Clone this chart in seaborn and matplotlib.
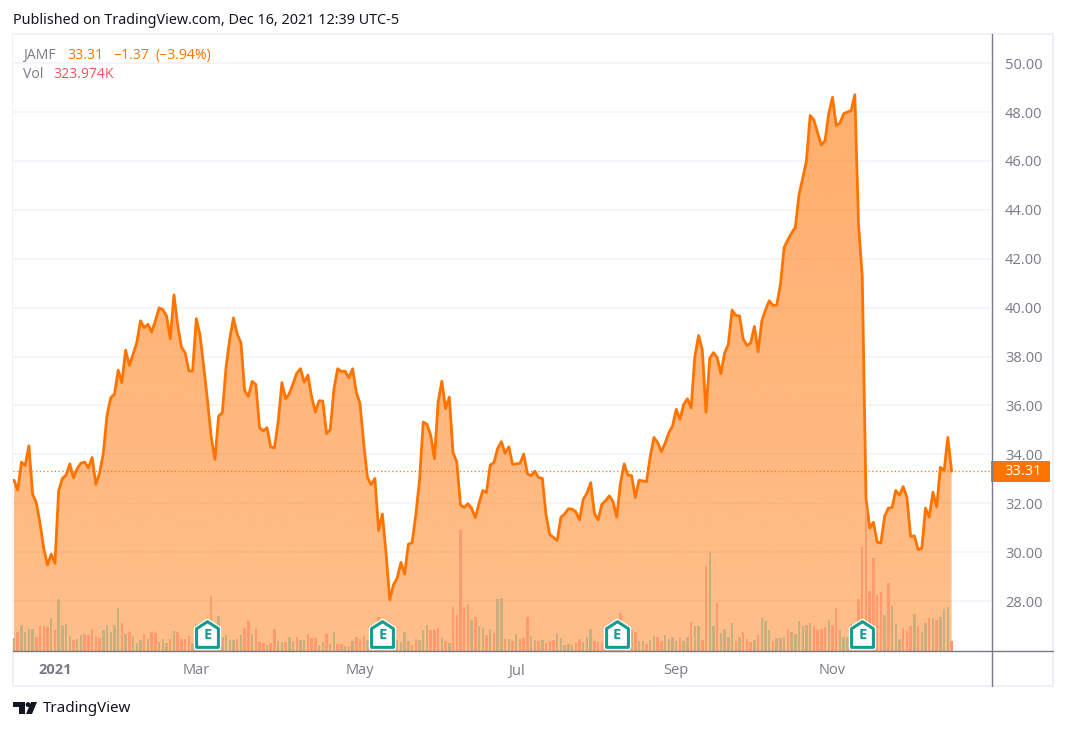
import numpy as np
import pandas as pd
import matplotlib
matplotlib.use('Agg')
import matplotlib.pyplot as plt
import seaborn as sns
from matplotlib.path import Path
from matplotlib.patches import Rectangle, Polygon, Circle
from matplotlib.lines import Line2D
from matplotlib.transforms import blended_transform_factory

# closing price per trading day
price = [
    32.94, 32.53, 33.68, 33.54, 34.35, 32.37, 32.02, 31.17, 30.15, 29.47,
    29.92, 29.54, 32.50, 33.01, 33.15, 33.61, 33.04, 33.42, 33.64, 33.68,
    33.45, 33.87, 32.77, 33.24, 34.03, 35.60, 36.31, 36.46, 37.44, 36.93,
    38.26, 37.64, 38.09, 38.56, 39.46, 39.18, 39.32, 39.00, 39.46, 39.99,
    39.92, 39.66, 38.73, 40.52, 39.28, 38.39, 38.15, 37.41, 37.41, 39.55,
    38.87, 37.57, 36.21, 34.71, 33.79, 35.56, 35.71, 37.57, 38.73, 39.58,
    38.91, 38.56, 36.60, 36.37, 36.98, 36.86, 35.09, 34.96, 35.09, 34.30,
    34.26, 35.32, 36.93, 36.27, 36.48, 36.89, 37.32, 37.50, 36.95, 37.24,
    36.34, 35.73, 36.19, 36.18, 34.85, 35.01, 36.68, 37.50, 37.39, 37.40,
    37.12, 37.50, 36.55, 36.07, 34.44, 33.05, 32.76, 33.01, 30.88, 31.56,
    29.96, 28.05, 28.67, 28.94, 29.58, 29.11, 30.32, 30.39, 31.52, 32.95,
    35.32, 35.23, 34.78, 33.82, 36.14, 36.99, 35.87, 36.34, 34.07, 33.69,
    31.93, 31.83, 31.98, 31.79, 31.41, 32.00, 32.52, 32.44, 33.56, 33.66,
    34.24, 34.52, 34.04, 34.31, 33.59, 33.61, 33.63, 34.01, 33.20, 33.13,
    33.31, 33.05, 33.02, 31.52, 30.72, 30.60, 30.48, 31.43, 31.56, 31.77,
    31.76, 31.65, 31.32, 32.16, 32.41, 32.84, 31.59, 31.32, 31.96, 32.10,
    32.30, 32.07, 31.43, 32.82, 33.61, 33.14, 33.13, 32.23, 32.94, 32.91,
    32.88, 33.90, 34.69, 34.48, 34.11, 34.45, 34.88, 35.16, 35.84, 35.43,
    36.04, 36.27, 35.90, 38.00, 38.86, 38.27, 35.72, 37.93, 38.16, 37.96,
    37.30, 38.14, 38.50, 39.90, 39.68, 39.66, 38.71, 38.45, 38.55, 39.23,
    38.20, 39.46, 39.91, 40.28, 40.09, 40.10, 40.93, 42.46, 42.77, 43.05,
    43.28, 44.62, 45.30, 46.01, 47.86, 47.67, 47.14, 46.65, 46.83, 47.96,
    48.60, 47.45, 47.55, 47.93, 48.00, 48.05, 48.71, 43.39, 41.27, 32.20,
    30.98, 31.22, 30.41, 30.37, 31.46, 31.80, 31.82, 32.52, 32.33, 32.68,
    32.24, 30.64, 30.67, 30.10, 30.16, 31.80, 31.43, 32.45, 31.84, 33.47,
    33.33, 34.69, 33.31,
]

# volume in thousands of shares
volume = [
    410, 616, 842, 616, 713, 713, 464, 810, 810, 788,
    1069, 680, 1685, 842, 875, 486, 356, 389, 518, 551,
    518, 713, 486, 421, 680, 842, 616, 842, 1393, 907,
    551, 616, 486, 259, 356, 551, 389, 616, 583, 292,
    389, 259, 389, 648, 616, 389, 389, 486, 259, 875,
    460, 400, 450, 1782, 500, 1134, 464, 518, 356, 356,
    389, 518, 745, 972, 551, 713, 292, 259, 194, 259,
    713, 324, 292, 292, 454, 324, 454, 356, 356, 551,
    421, 421, 194, 292, 551, 227, 616, 216, 216, 162,
    162, 324, 454, 389, 486, 356, 300, 300, 1091, 350,
    300, 300, 250, 356, 292, 616, 324, 194, 389, 356,
    680, 842, 680, 680, 734, 454, 324, 259, 1426, 1166,
    3920, 1426, 1523, 1004, 1102, 810, 745, 518, 713, 583,
    1685, 1717, 389, 389, 324, 551, 389, 421, 1102, 486,
    356, 324, 356, 248, 324, 356, 583, 421, 194, 227,
    194, 259, 389, 292, 454, 713, 324, 292, 250, 250,
    250, 250, 250, 1231, 250, 250, 680, 616, 324, 324,
    227, 356, 486, 454, 324, 518, 389, 454, 324, 454,
    324, 454, 940, 810, 810, 356, 2754, 3208, 810, 1555,
    583, 713, 454, 907, 324, 454, 616, 389, 292, 356,
    518, 1069, 972, 680, 324, 421, 421, 454, 713, 616,
    551, 972, 810, 842, 907, 810, 680, 713, 778, 1004,
    842, 1393, 680, 454, 454, 875, 500, 1685, 3380, 4570,
    1944, 3013, 1814, 1912, 1166, 2203, 1458, 875, 389, 745,
    648, 810, 1199, 810, 616, 907, 1069, 1069, 1004, 1102,
    1361, 1426, 324,
]

# g = up day, r = down day
vol_dir = list(
    "grggggrrrr" "grggggrggr" "rrrrgggggr" "grgggrgrrg" "ggrgrrrrgg"
    "rrrrrggggg" "rgrrgrrrgr" "rggrggrggr" "rrggrggrrg" "rgrrrgrrrr"
    "rrgggggrrg" "ggrrrgrgrr" "rrrgrggrgr" "ggrgrgrrrg" "grgrrrgggg"
    "grrgggrrrr" "rrrrrrgrgg" "rggrrggggr" "ggrggrrggr" "ggggrgrrrg"
    "rgggrgggrg" "gggggrrrrg" "rrgggrrrrr" "rrrrgrgggr" "rrgrggrgrg"
    "ggr"
)

y_ticks = [28, 30, 32, 34, 36, 38, 40, 42, 44, 46, 48, 50]
month_pos = [11, 49, 93, 135, 178, 220]
month_labels = ['2021', 'Mar', 'May', 'Jul', 'Sep', 'Nov']
earnings_pos = [52, 99, 162, 228]

ORANGE = '#ff7300'
GREY = '#787b86'
W, H = 1066, 730

sns.set_theme(style='white')
plt.rcParams['font.family'] = ['Open Sans', 'DejaVu Sans']

fig = plt.figure(figsize=(W / 100, H / 100), dpi=100)
ax = fig.add_axes([13 / W, (H - 651) / H, 978 / W, 616 / H])

idx = np.arange(len(price))
df = pd.DataFrame({'i': idx, 'price': price, 'vol': volume, 'dir': vol_dir})
xlim = (-0.27, 262.6)
ylim = (25.955, 51.15)

# gridlines stay visible through the fill
ax.grid(axis='y', color='#f0f3fa', lw=1.1)
ax.set_axisbelow(True)

# area fill, a little stronger at the top
grad = np.zeros((256, 1, 4))
grad[..., 0] = 1.0
grad[..., 1] = 115 / 255
grad[..., 3] = np.linspace(0.58, 0.46, 256).reshape(-1, 1)
im = ax.imshow(grad, extent=(df.i.min(), df.i.max(), ylim[0], max(price)), origin='upper',
               aspect='auto', zorder=1.5)
poly = np.column_stack([np.r_[df.i.min(), df.i, df.i.max()], np.r_[ylim[0], df.price, ylim[0]]])
clip = Polygon(poly, closed=True, transform=ax.transData, fc='none', ec='none')
ax.add_patch(clip)
im.set_clip_path(clip)

sns.lineplot(data=df, x='i', y='price', color=ORANGE, lw=2.0, ax=ax, zorder=3)
ax.lines[-1].set_solid_joinstyle('round')
ax.axhline(price[-1], color=ORANGE, lw=0.9, ls=(0, (1, 2)), zorder=2.5)

ax.set_xlabel('')
ax.set_ylabel('')
sns.despine(ax=ax, left=True, bottom=True, right=True, top=True)

# volume pane shares the bottom of the axes
ax2 = ax.twinx()
sns.barplot(data=df, x='i', y='vol', hue='dir', palette={'g': '#c9ae7e', 'r': '#fe9a6e'},
            dodge=False, native_scale=True, width=0.66, saturation=1, legend=False, linewidth=0, ax=ax2)
ax2.set_ylim(0, 616 * 32.4)
ax2.set_yticks([])
ax2.set_xlabel('')
ax2.set_ylabel('')
sns.despine(ax=ax2, left=True, bottom=True, right=True, top=True)

# ticks go on last, the twin axes and barplot reset them
ax.set_xticks(month_pos)
ax.set_xticklabels(month_labels, color=GREY, fontsize=10.5)
ax.get_xticklabels()[0].set_fontweight('bold')
ax.tick_params(axis='x', length=0, pad=9)
ax.set_xlim(*xlim)
ax.set_ylim(*ylim)
ax.set_yticks(y_ticks)
ax.set_yticklabels([f'{t:.2f}' for t in y_ticks], color=GREY, fontsize=10.5)
ax.yaxis.tick_right()
ax.tick_params(axis='y', length=0, pad=10)

# earnings markers
house = Path([(-0.85, -1), (0.85, -1), (0.85, 0.45), (0, 1), (-0.85, 0.45), (-0.85, -1)], closed=True)
trans = blended_transform_factory(ax2.transData, ax2.transAxes)
for p in earnings_pos:
    ax2.plot([p], [0.0276], marker=house, ms=18.5, mfc='white', mec='white', mew=4.0, transform=trans,
             clip_on=False, zorder=5)
    ax2.plot([p], [0.0276], marker=house, ms=18.5, mfc='white', mec='#149c8e', mew=2.2, transform=trans,
             clip_on=False, zorder=6, solid_joinstyle='round')
    ax2.text(p, 0.0255, 'E', color='#149c8e', fontsize=10.5, fontweight='bold', ha='center', va='center',
             transform=trans, zorder=7)

# last price tag on the scale
tag_trans = blended_transform_factory(ax.transAxes, ax.transData)
ax2.add_patch(Rectangle((1.0, price[-1] - 0.43), 0.0603, 0.86, transform=tag_trans,
                        fc=ORANGE, ec='none', clip_on=False, zorder=8))
ax2.text(1.0325, price[-1] - 0.01, f'{price[-1]:.2f}', color='white', fontsize=10.5, ha='center', va='center',
         transform=tag_trans, zorder=9)


def fx(px):
    return px / W


def fy(py):
    return 1 - py / H


# chart frame and scale lines
fig.add_artist(Rectangle((fx(13), fy(686)), fx(1040), 652 / H, transform=fig.transFigure, fc='none',
                         ec='#eff0f6', lw=1.3, zorder=0))
fig.add_artist(Line2D([fx(13), fx(1053)], [fy(651.3)] * 2, color=GREY, lw=1.0))
fig.add_artist(Line2D([fx(991.5)] * 2, [fy(34), fy(686)], color=GREY, lw=1.0))

# header and legend
fig.text(fx(13), fy(20.5), 'Published on TradingView.com, Dec 16, 2021 12:39 UTC-5', color='#131722',
         fontsize=10.33, family=['Noto Sans', 'DejaVu Sans'], va='center')
legend_row = [(23, 55.5, 'JAMF', GREY), (67, 55.5, '33.31', ORANGE), (113, 55.5, '\u22121.37', ORANGE),
              (155, 55.5, '(\u22123.94%)', ORANGE), (23, 75, 'Vol', GREY), (53, 75, '323.974K', '#f7525f')]
for lx, ly, s, c in legend_row:
    fig.text(fx(lx), fy(ly), s, color=c, fontsize=10.1, va='center')

# TradingView logo
logo = '#131722'
fig.add_artist(Polygon([(fx(13), fy(702)), (fx(25), fy(702)), (fx(25), fy(714)), (fx(19), fy(714)),
                        (fx(19), fy(707)), (fx(13), fy(707))], closed=True, fc=logo, ec='none',
                       transform=fig.transFigure))
fig.add_artist(Polygon([(fx(31), fy(702)), (fx(37), fy(702)), (fx(32), fy(714)), (fx(26), fy(714))],
                       closed=True, fc=logo, ec='none', transform=fig.transFigure))
dot = Circle((28, H - 704.6), 2.4, fc=logo, ec='none', transform=None)
fig.add_artist(dot)
fig.text(fx(43), fy(708), 'TradingView', color=logo, fontsize=10.9, family=['Noto Sans', 'DejaVu Sans'], va='center')

fig.savefig('out.png', dpi=100)
